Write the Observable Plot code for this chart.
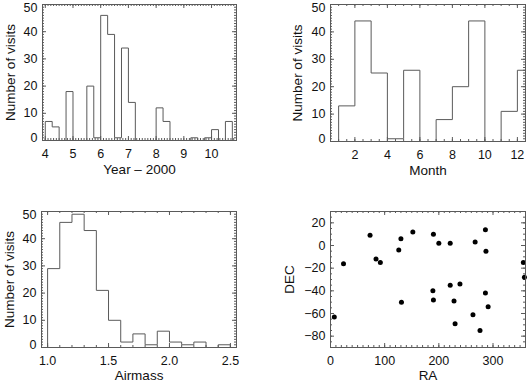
<!DOCTYPE html>
<html><head><meta charset="utf-8">
<script src="https://cdn.jsdelivr.net/npm/d3@7"></script>
<script src="https://cdn.jsdelivr.net/npm/@observablehq/plot@0.6"></script>
<style>
body{margin:0;background:#fff;}
#fig{position:relative;width:527px;height:382px;overflow:hidden;background:#fff;}
#fig svg{position:absolute;}
</style></head><body><div id="fig"></div>
<script>
// ---------- data ----------
const yearBinStart = 4.0, yearBinWidth = 0.25;
const yearCounts = [7,5,0,18,0,0,20,1,46,39,1,34,14,0,0,0,12,7,0,0,0,1,0,1,4,0,7];
const monthBinStart = 1, monthBinWidth = 1;
const monthCounts = [13,44,25,1,26,0,8,20,44,0,11,26];
const airmassBinStart = 1.0, airmassBinWidth = 0.1;
const airmassCounts = [29,46,49,43,21,10,2,5,1,6,2,1,2,0,1];
const ra  = [7,24,73,84,92,126,130,131,152,190,189,190,200,221,221,228,230,239,263,267,276,286,287,286,291,356,358];
const dec = [-63,-16,9,-12,-15,-4,6,-50,12,10,-40,-48,2,2,-35,-49,-69,-34,-61,3,-75,14,-5,-42,-54,-15,-28];
const yearTicks = [4,5,6,7,8,9,10];
const monthTicks = [2,4,6,8,10,12];
const airmassTicks = [1.0,1.5,2.0,2.5];
const countTicks = [0,10,20,30,40,50];
const raTicks = [0,100,200,300];
const decTicks = [-80,-60,-40,-20,0,20];

// ---------- helpers ----------
const gray = "#5a5a5a";
const fig = document.getElementById("fig");

function stepPoints(start, width, counts) {
  const pts = [{x: start, y: 0}];
  counts.forEach((c, i) => pts.push({x: start + i * width, y: c}));
  pts.push({x: start + counts.length * width, y: counts[counts.length - 1]});
  pts.push({x: start + counts.length * width, y: 0});
  return pts;
}
function range(a, b, s) {
  const out = [];
  const n = Math.round((b - a) / s);
  for (let i = 0; i <= n; i++) out.push(+(a + i * s).toFixed(6));
  return out;
}

function panel(o) {
  const {left, top, width, height, m, xDomain, yDomain} = o;
  const innerW = width - m.l - m.r, innerH = height - m.t - m.b;
  const majLen = 4, minLen = 2;
  const marks = [];
  const tx = (vals, len) => [
    Plot.tickX(vals, {x: d => d, insetTop: innerH - len, stroke: gray}),
    Plot.tickX(vals, {x: d => d, insetBottom: innerH - len, stroke: gray})
  ];
  const ty = (vals, len) => [
    Plot.tickY(vals, {y: d => d, insetRight: innerW - len, stroke: gray}),
    Plot.tickY(vals, {y: d => d, insetLeft: innerW - len, stroke: gray})
  ];
  marks.push(...tx(o.xMinor, minLen), ...tx(o.xMajor, majLen), ...ty(o.yMinor, minLen), ...ty(o.yMajor, majLen));
  marks.push(...o.marks);
  marks.push(Plot.frame({stroke: gray}));
  marks.push(Plot.axisX(o.xLabels, {tickSize: 0, tickPadding: 9, label: null, tickFormat: o.xFormat, fontSize: 12.5}));
  if (o.yEnds) {
    const inner = o.yLabels.slice(1, -1);
    marks.push(Plot.axisY(inner, {anchor: "left", tickSize: 0, tickPadding: 5, label: null, fontSize: 12.5}));
    marks.push(Plot.axisY([o.yLabels[0]], {anchor: "left", tickSize: 0, tickPadding: 5, label: null, fontSize: 12.5, dy: -2.5}));
    marks.push(Plot.axisY([o.yLabels[o.yLabels.length - 1]], {anchor: "left", tickSize: 0, tickPadding: 5, label: null, fontSize: 12.5, dy: 3.5}));
  } else {
    marks.push(Plot.axisY(o.yLabels, {anchor: "left", tickSize: 0, tickPadding: 5, label: null, fontSize: 12.5}));
  }
  marks.push(Plot.text([o.xTitle], {frameAnchor: "bottom", dy: o.xTitleDy ?? 29, textAnchor: "middle", lineAnchor: "middle", fontSize: 13.5}));
  marks.push(Plot.text([o.yTitle], {frameAnchor: "left", rotate: -90, dx: o.yTitleDx, textAnchor: "middle", lineAnchor: "middle", fontSize: 13.5}));

  const svg = Plot.plot({
    width, height,
    marginLeft: m.l, marginRight: m.r, marginTop: m.t, marginBottom: m.b,
    x: {domain: xDomain},
    y: {domain: yDomain},
    style: {fontFamily: "'Liberation Sans', Arial, sans-serif", fontSize: "12.5px", color: "#111", background: "transparent", overflow: "visible"},
    marks
  });
  svg.style.left = left + "px";
  svg.style.top = top + "px";
  fig.appendChild(svg);
}

const histLine = (pts) => Plot.line(pts, {x: "x", y: "y", curve: "step-after", stroke: gray, strokeWidth: 1, clip: true});

// Top-left: year
panel({
  left: 0, top: 0, width: 264, height: 191, m: {l: 42, r: 28, t: 4, b: 51},
  xDomain: [3.9, 10.9], yDomain: [0, 50],
  xMinor: range(3.9, 10.9, 0.1), xMajor: yearTicks,
  yMinor: range(0, 50, 1), yMajor: countTicks,
  xLabels: yearTicks, yLabels: countTicks, yEnds: true,
  xTitle: "Year – 2000", yTitle: "Number of visits", yTitleDx: -32,
  marks: [histLine(stepPoints(yearBinStart, yearBinWidth, yearCounts))]
});

// Top-right: month
panel({
  left: 264, top: 0, width: 263, height: 191, m: {l: 66, r: 2, t: 4, b: 50},
  xDomain: [0.5, 12.5], yDomain: [0, 50],
  xMinor: range(0.5, 12.5, 0.5), xMajor: monthTicks,
  yMinor: range(0, 50, 1), yMajor: countTicks,
  xLabels: monthTicks, yLabels: countTicks, yEnds: true,
  xTitle: "Month", yTitle: "Number of visits", yTitleDx: -33,
  marks: [histLine(stepPoints(monthBinStart, monthBinWidth, monthCounts))]
});

// Bottom-left: airmass
panel({
  left: 0, top: 191, width: 264, height: 191, m: {l: 41, r: 28, t: 20, b: 35},
  xDomain: [0.95, 2.55], yDomain: [0, 50],
  xMinor: range(1.0, 2.5, 0.1), xMajor: airmassTicks,
  yMinor: range(0, 50, 1), yMajor: countTicks,
  xLabels: airmassTicks, xFormat: d3.format(".1f"), yLabels: countTicks, yEnds: true,
  xTitle: "Airmass", xTitleDy: 28, yTitle: "Number of visits", yTitleDx: -32,
  marks: [histLine(stepPoints(airmassBinStart, airmassBinWidth, airmassCounts))]
});

// Bottom-right: RA / DEC
panel({
  left: 264, top: 191, width: 263, height: 191, m: {l: 66, r: 2, t: 20, b: 35},
  xDomain: [0, 360], yDomain: [-90, 30],
  xMinor: range(0, 360, 10), xMajor: raTicks,
  yMinor: range(-90, 30, 5), yMajor: decTicks,
  xLabels: raTicks, yLabels: decTicks, yEnds: false,
  xTitle: "RA", xTitleDy: 28, yTitle: "DEC", yTitleDx: -41,
  marks: [Plot.dot(ra.map((r, i) => ({ra: r, dec: dec[i]})), {x: "ra", y: "dec", r: 2.5, fill: "#000", stroke: "none"})]
});
</script>
</body></html>
